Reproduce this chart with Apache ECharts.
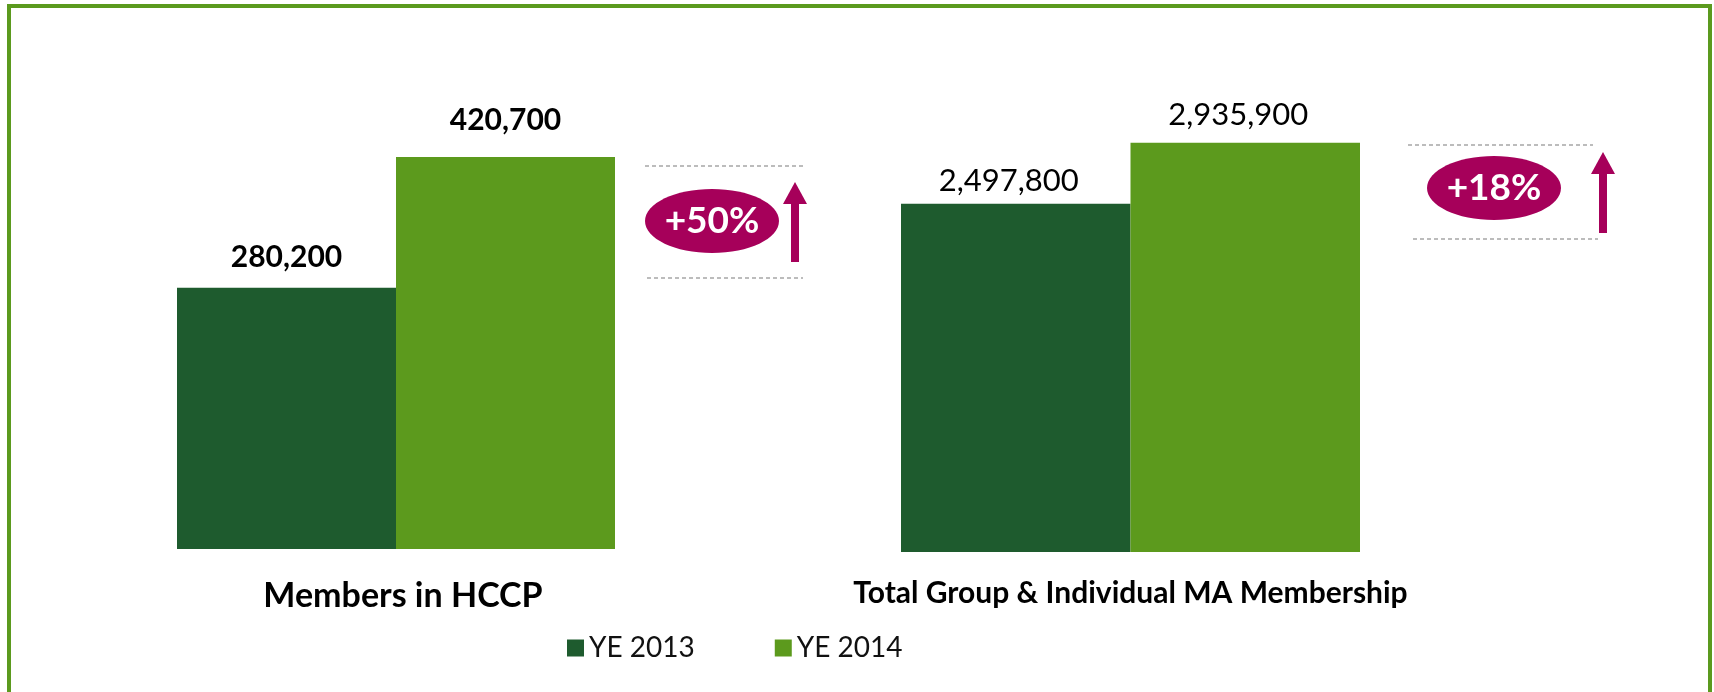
<!DOCTYPE html>
<html>
<head>
<meta charset="utf-8">
<script src="https://cdn.jsdelivr.net/npm/echarts@6/dist/echarts.min.js"></script>
<style>
html, body { margin: 0; padding: 0; background: #fff; }
#chart { width: 1714px; height: 692px; }
</style>
</head>
<body>
<div id="chart"></div>
<script>
// data
var categories = ['Members in HCCP', 'Total Group & Individual MA Membership'];
var seriesNames = ['YE 2013', 'YE 2014'];
var ye2013 = [280200, 2497800];
var ye2014 = [420700, 2935900];
var axisMax = [500000, 3500000];

var darkGreen = '#1e5b2e';
var lightGreen = '#5c9a1d';
var magenta = '#a6005a';
var font = 'Lato';

var myChart = echarts.init(document.getElementById('chart'));

function fmt(p) {
    return p.value.toLocaleString('en-US');
}

function pct(i) {
    return '+' + Math.round((ye2014[i] - ye2013[i]) / ye2013[i] * 100) + '%';
}

// 左右两块, 各自一个刻度
var grids = [
    { left: 177, width: 438, top: 83, height: 466 },
    { left: 901, width: 459, top: 64, height: 488 }
];

var labelStyle = [
    { fontWeight: 'bold', fontSize: 30, dist: [16, 22], offset: [0, 0] },
    { fontWeight: 'normal', fontSize: 31, dist: [7, 12], offset: [-7, 0] }
];
var catLabel = [
    { fontSize: 34, margin: 30, padding: [0, 0, 0, 14] },
    { fontSize: 30, margin: 26, padding: 0 }
];

var xAxes = [], yAxes = [], series = [];
for (var i = 0; i < 2; i++) {
    xAxes.push({
        type: 'category',
        gridIndex: i,
        data: [categories[i]],
        axisLine: { show: false },
        axisTick: { show: false },
        axisLabel: {
            color: '#000',
            fontFamily: font,
            fontWeight: 'bold',
            fontSize: catLabel[i].fontSize,
            margin: catLabel[i].margin,
            padding: catLabel[i].padding
        }
    });
    yAxes.push({
        type: 'value',
        gridIndex: i,
        min: 0,
        max: axisMax[i],
        show: false,
        splitLine: { show: false }
    });
    [ye2013, ye2014].forEach(function (arr, k) {
        series.push({
            name: seriesNames[k],
            type: 'bar',
            xAxisIndex: i,
            yAxisIndex: i,
            barGap: '0%',
            barCategoryGap: '0%',
            data: [arr[i]],
            itemStyle: { color: k === 0 ? darkGreen : lightGreen },
            label: {
                show: true,
                position: 'top',
                distance: labelStyle[i].dist[k],
                offset: labelStyle[i].offset,
                formatter: fmt,
                color: '#000',
                fontFamily: font,
                fontWeight: labelStyle[i].fontWeight,
                fontSize: labelStyle[i].fontSize
            },
            emphasis: { disabled: true }
        });
    });
}

// +xx% 标注
function badge(cx, cy, text, lineTop, lineBottom, arrowX, tipY, headY, tailY) {
    var dash = { stroke: '#a6a6a6', lineWidth: 1.5, lineDash: [4, 3] };
    return [
        { type: 'line', shape: { x1: lineTop[0], y1: lineTop[2], x2: lineTop[1], y2: lineTop[2] }, style: dash },
        { type: 'line', shape: { x1: lineBottom[0], y1: lineBottom[2], x2: lineBottom[1], y2: lineBottom[2] }, style: dash },
        { type: 'ellipse', shape: { cx: cx, cy: cy, rx: 67, ry: 32 }, style: { fill: magenta } },
        {
            type: 'text', x: cx, y: cy,
            style: {
                text: text, fill: '#fff', font: 'bold 37px ' + font,
                align: 'center', verticalAlign: 'middle'
            }
        },
        { type: 'rect', shape: { x: arrowX - 4, y: headY - 1, width: 8, height: tailY - headY + 1 }, style: { fill: magenta } },
        {
            type: 'polygon',
            shape: { points: [[arrowX, tipY], [arrowX - 12, headY], [arrowX + 12, headY]] },
            style: { fill: magenta }
        }
    ];
}

var graphics = [
    {
        type: 'rect',
        shape: { x: 9, y: 6, width: 1701, height: 720 },
        style: { fill: null, stroke: '#5b9a1e', lineWidth: 4 }
    }
].concat(
    badge(712, 221, pct(0), [645, 805, 166], [647, 803, 278], 795, 182, 204, 262),
    badge(1494, 188, pct(1), [1408, 1593, 145], [1413, 1598, 239], 1603, 152, 174, 233)
);

var option = {
    backgroundColor: '#fff',
    animation: false,
    grid: grids,
    xAxis: xAxes,
    yAxis: yAxes,
    series: series,
    legend: {
        data: seriesNames,
        left: 567,
        top: 634,
        padding: 0,
        icon: 'rect',
        itemWidth: 17,
        itemHeight: 17,
        itemGap: 80,
        textStyle: { color: '#111', fontFamily: font, fontSize: 28 }
    },
    graphic: graphics
};

myChart.setOption(option);
</script>
</body>
</html>
